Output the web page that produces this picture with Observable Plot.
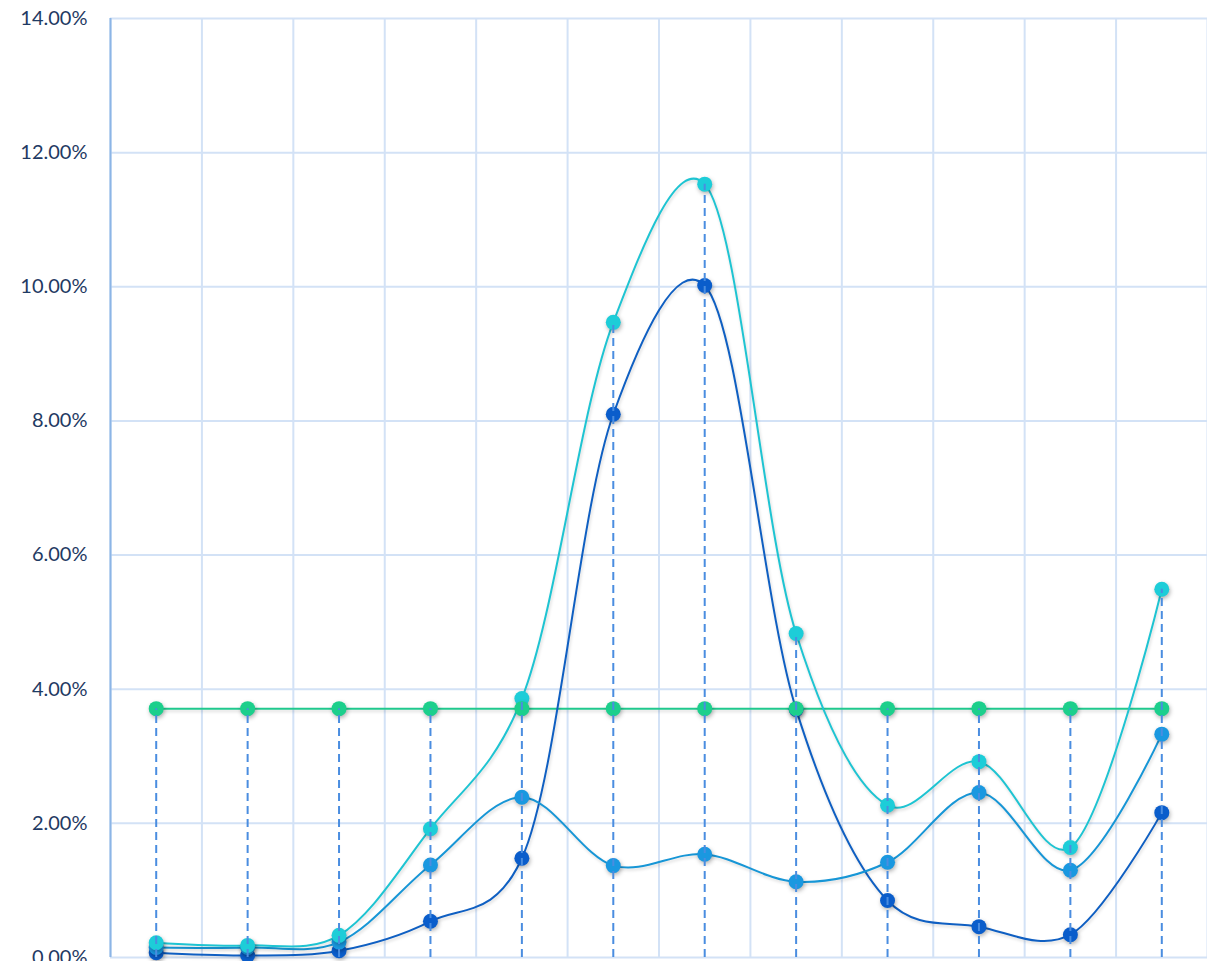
<!DOCTYPE html>
<html><head><meta charset="utf-8">
<script src="https://cdn.jsdelivr.net/npm/d3@7"></script>
<script src="https://cdn.jsdelivr.net/npm/@observablehq/plot@0.6"></script>
<style>
  html,body{margin:0;padding:0;background:#fff;overflow:hidden;}
  #chart svg{display:block;}
</style>
</head><body><div id="chart"></div>
<script>
const categories = [1, 2, 3, 4, 5, 6, 7, 8, 9, 10, 11, 12];
const seriesDark   = [0.07, 0.03, 0.10, 0.54, 1.48, 8.10, 10.02, 3.70, 0.85, 0.46, 0.34, 2.16];
const seriesMedium = [0.15, 0.15, 0.23, 1.38, 2.39, 1.37, 1.54, 1.13, 1.42, 2.46, 1.30, 3.33];
const seriesCyan   = [0.22, 0.18, 0.33, 1.92, 3.86, 9.47, 11.53, 4.83, 2.27, 2.92, 1.64, 5.49];
const seriesGreen  = [3.71, 3.71, 3.71, 3.71, 3.71, 3.71, 3.71, 3.71, 3.71, 3.71, 3.71, 3.71];
const yTicks = [0, 2, 4, 6, 8, 10, 12, 14];

const rows = s => categories.map((c, i) => ({x: c, y: s[i]}));
const dark = rows(seriesDark), medium = rows(seriesMedium), cyan = rows(seriesCyan), green = rows(seriesGreen);
const maxes = categories.map((c, i) => ({x: c, y: Math.max(seriesDark[i], seriesMedium[i], seriesCyan[i], seriesGreen[i])}));
const xBounds = d3.range(categories.length + 1).map(i => categories[0] - 0.5 + i);

const lineOpts = {x: "x", y: "y", curve: "catmull-rom", tension: 0.2, strokeWidth: 2};
const dotOpts = {x: "x", y: "y", r: 7.5, stroke: "none"};

const chart = Plot.plot({
  width: 1207,
  height: 961,
  marginLeft: 110,
  marginRight: 0,
  marginTop: 18,
  marginBottom: 4,
  style: {fontFamily: "Lato, 'Open Sans', sans-serif", background: "#fff", overflow: "hidden"},
  x: {type: "linear", domain: [categories[0] - 0.5, categories[categories.length - 1] + 0.5], axis: null},
  y: {domain: [0, 14], ticks: yTicks, tickFormat: d => d.toFixed(2) + "%", tickSize: 0, tickPadding: 23, label: null},
  marks: [
    Plot.ruleY(yTicks, {stroke: "#d3e2f6", strokeWidth: 2}),
    Plot.ruleX(xBounds, {stroke: "#d3e2f6", strokeWidth: 2}),
    Plot.ruleX([xBounds[0]], {stroke: "#8cb5e6", strokeWidth: 2}),
    Plot.axisY({ticks: yTicks, tickFormat: d => d.toFixed(2) + "%", tickSize: 0, tickPadding: 23, fontSize: 20, fill: "#1f3a63", label: null}),
    Plot.line(green, {...lineOpts, curve: "linear", stroke: "#20c98e"}),
    Plot.line(dark, {...lineOpts, stroke: "#0f5fc2"}),
    Plot.line(medium, {...lineOpts, stroke: "#1796d6"}),
    Plot.line(cyan, {...lineOpts, stroke: "#1ec4d2"}),
    Plot.dot(dark, {...dotOpts, fill: "#0a5dcb"}),
    Plot.dot(medium, {...dotOpts, fill: "#1a98e0"}),
    Plot.dot(cyan, {...dotOpts, fill: "#1dcdd8"}),
    Plot.dot(green, {...dotOpts, fill: "#1ccf8c"}),
    Plot.ruleX(maxes, {x: "x", y1: 0, y2: "y", stroke: "#4a8de0", strokeWidth: 2, strokeDasharray: "8,5"})
  ]
});
d3.select(chart).selectAll('g[aria-label="dot"]').style("filter", "drop-shadow(1px 2px 2px rgba(0,0,0,0.3))");
d3.select(chart).selectAll('g[aria-label="line"]').style("filter", "drop-shadow(1px 2px 1.5px rgba(0,0,0,0.15))");
document.getElementById("chart").appendChild(chart);
</script>
</body></html>
